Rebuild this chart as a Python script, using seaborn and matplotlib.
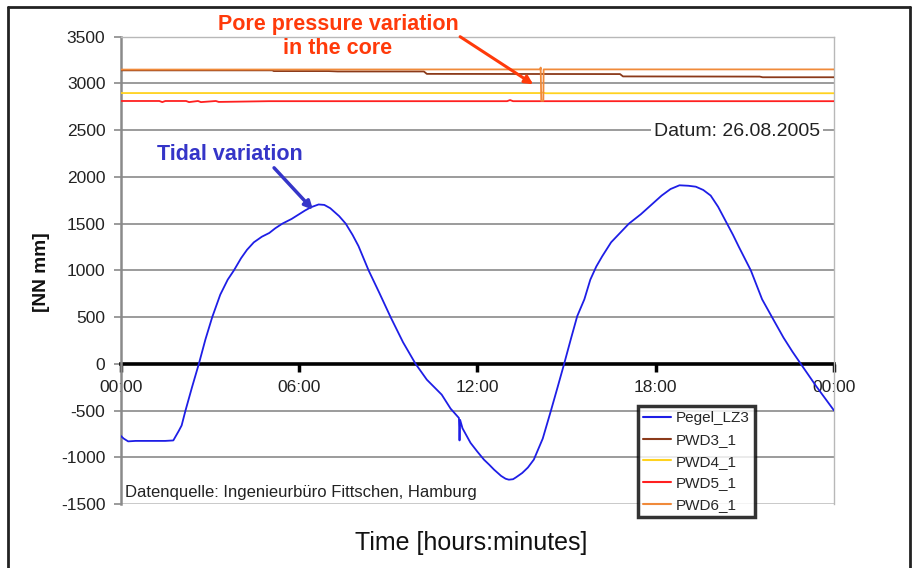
import numpy as np
import pandas as pd
import matplotlib
matplotlib.use("Agg")
import matplotlib.pyplot as plt
from matplotlib.lines import Line2D
import seaborn as sns

sns.set_theme(style="white")
plt.rcParams["font.family"] = ["Liberation Sans", "DejaVu Sans"]
plt.rcParams["axes.unicode_minus"] = False

# tide gauge (hours after midnight, NN mm)
pegel_t = [0.0, 0.1, 0.25, 0.5, 1.0, 1.5, 1.77, 1.95, 2.05, 2.18, 2.4, 2.63, 2.85,
           3.08, 3.35, 3.6, 3.81, 4.05, 4.25, 4.48, 4.75, 5.0, 5.2, 5.44, 5.75, 6.0,
           6.2, 6.4, 6.66, 6.85, 7.05, 7.35, 7.57, 7.8, 8.0, 8.34, 8.7, 9.08, 9.5,
           9.92, 10.3, 10.8, 11.1, 11.38, 11.40, 11.42, 11.5, 11.77, 12.0, 12.22,
           12.4, 12.56, 12.8, 12.95, 13.06, 13.2, 13.3, 13.51, 13.7, 13.9, 14.2,
           14.47, 14.7, 14.92, 15.15, 15.36, 15.6, 15.8, 16.0, 16.2, 16.5, 16.8,
           17.1, 17.5, 17.85, 18.2, 18.5, 18.8, 19.1, 19.35, 19.6, 19.85, 20.1,
           20.4, 20.6, 20.8, 21.2, 21.58, 22.0, 22.3, 22.6, 22.88, 23.4, 24.0]
pegel_v = [-770, -800, -830, -825, -825, -825, -820, -720, -660, -500, -250, 0, 260,
           500, 740, 900, 1000, 1130, 1220, 1300, 1360, 1400, 1450, 1500, 1550, 1600,
           1640, 1675, 1705, 1700, 1665, 1580, 1500, 1380, 1260, 1000, 760, 500, 230,
           0, -170, -330, -480, -580, -820, -600, -690, -846, -940, -1025,
           -1080, -1132, -1200, -1230, -1240, -1235, -1215, -1168, -1110, -1025, -800,
           -507, -250, 0, 270, 510, 690, 900, 1040, 1150, 1300, 1400,
           1500, 1600, 1700, 1800, 1870, 1910, 1905, 1895, 1860, 1800, 1680,
           1500, 1380, 1250, 1000, 690, 450, 280, 130, 0, -240, -500]

# pore pressure sensors in the core
pwd3_t = [0.0, 5.1, 5.15, 7.0, 7.3, 10.2, 10.3, 16.8, 16.9, 21.5, 21.6, 24.0]
pwd3_v = [3140, 3140, 3132, 3132, 3128, 3128, 3102, 3100, 3075, 3073, 3066, 3066]

pwd4_t = [0.0, 14.1, 14.2, 14.3, 24.0]
pwd4_v = [2897, 2897, 2902, 2895, 2895]

pwd5_t = [0.0, 1.3, 1.4, 1.5, 2.2, 2.3, 2.6, 2.7, 3.2, 3.3, 5.0, 5.1, 13.0, 13.1, 13.2, 24.0]
pwd5_v = [2812, 2812, 2800, 2812, 2812, 2800, 2812, 2800, 2812, 2802, 2810, 2810, 2810, 2822, 2810, 2810]

pwd6_t = [0.0, 14.12, 14.13, 14.15, 14.22, 14.23, 24.0]
pwd6_v = [3148, 3150, 3170, 2815, 2815, 3150, 3150]

series_names = ["Pegel_LZ3", "PWD3_1", "PWD4_1", "PWD5_1", "PWD6_1"]
series_colors = ["#1e1ee6", "#8b3a1a", "#ffd21f", "#ff2020", "#f08a3a"]

x_ticks = [0, 6, 12, 18, 24]
x_ticklabels = ["00:00", "06:00", "12:00", "18:00", "00:00"]
y_ticks = [-1500, -1000, -500, 0, 500, 1000, 1500, 2000, 2500, 3000, 3500]

frames = []
for name, t, v in zip(series_names,
                      [pegel_t, pwd3_t, pwd4_t, pwd5_t, pwd6_t],
                      [pegel_v, pwd3_v, pwd4_v, pwd5_v, pwd6_v]):
    frames.append(pd.DataFrame({"time": t, "value": v, "series": name}))
df = pd.concat(frames, ignore_index=True)

fig = plt.figure(figsize=(9.13, 5.68), dpi=100)
ax = fig.add_axes([0.1322, 0.1127, 0.7813, 0.8227])

sns.lineplot(data=df, x="time", y="value", hue="series", hue_order=series_names,
             palette=series_colors, estimator=None, lw=1.3, ax=ax, zorder=3)

ax.set_xlim(0, 24)
ax.set_ylim(-1500, 3500)
ax.set_yticks(y_ticks)
ax.set_xticks(x_ticks)
ax.set_xticklabels(x_ticklabels)
ax.set_xlabel("")
ax.set_ylabel("")

# gridlines
for yv in y_ticks:
    if yv not in (0, -1500):
        ax.axhline(yv, color="#8a8a8a", lw=1.2, zorder=1)
ax.axhline(-1500, color="#c0c0c0", lw=1.2, zorder=1)

for side in ["top", "right"]:
    ax.spines[side].set_color("#b8b8b8")
    ax.spines[side].set_linewidth(1.0)
ax.spines["left"].set_color("#8a8a8a")
ax.spines["left"].set_linewidth(1.8)
ax.spines["bottom"].set_position(("data", 0))
ax.spines["bottom"].set_color("black")
ax.spines["bottom"].set_linewidth(2.6)
ax.spines["bottom"].set_zorder(2)

ax.tick_params(axis="y", direction="out", length=5, width=1.2, color="#8a8a8a",
               labelsize=12.5, labelcolor="#222222", pad=6, left=True)
ax.tick_params(axis="x", direction="out", length=6, width=2.5, color="black",
               labelsize=12.5, labelcolor="#222222", pad=6, bottom=True)

# legend
leg = ax.legend(loc="upper left", bbox_to_anchor=(0.7252, 0.2097), borderaxespad=0,
                fontsize=11, frameon=True, fancybox=False, handlelength=1.8,
                handletextpad=0.3, labelspacing=0.5, borderpad=0.35)
leg.get_frame().set_edgecolor("black")
leg.get_frame().set_linewidth(2.5)
leg.set_zorder(6)
for line in leg.get_lines():
    line.set_linewidth(1.5)

# texts inside plot
ax.text(23.53, 2490, "Datum: 26.08.2005", ha="right", va="center", fontsize=14,
        color="#222222", zorder=4,
        bbox=dict(facecolor="white", edgecolor="none", pad=2))
ax.text(0.14, -1372, "Datenquelle: Ingenieurbüro Fittschen, Hamburg", ha="left",
        va="center", fontsize=12, color="#222222", zorder=4)

ax.text(7.31, 3500, "Pore pressure variation\nin the core", ha="center", va="center",
        fontsize=15.5, fontweight="bold", color="#ff3a0a", linespacing=1.2, zorder=5)
ax.annotate("", xy=(13.88, 2990), xytext=(11.42, 3500),
            arrowprops=dict(arrowstyle="-|>", color="#ff3a0a", lw=2.2, mutation_scale=12,
                            shrinkA=0, shrinkB=0), zorder=5, annotation_clip=False)

ax.text(3.68, 2236, "Tidal variation", ha="center", va="center", fontsize=15.5,
        fontweight="bold", color="#3535c8", zorder=5)
ax.annotate("", xy=(6.47, 1648), xytext=(5.16, 2097),
            arrowprops=dict(arrowstyle="-|>", color="#3535c8", lw=2.5, mutation_scale=12,
                            shrinkA=0, shrinkB=0), zorder=5)

# axis titles
fig.text(0.516, 0.044, "Time [hours:minutes]", ha="center", va="center", fontsize=18,
         color="#111111")
fig.text(0.046, 0.521, "[NN mm]", ha="center", va="center", rotation=90, fontsize=13.8,
         fontweight="bold", color="#111111")

# outer frame
fig.add_artist(Line2D([8 / 913, 8 / 913], [0, 1 - 7 / 568], transform=fig.transFigure,
                      color="#222222", lw=2))
fig.add_artist(Line2D([8 / 913, 910 / 913], [1 - 7 / 568, 1 - 7 / 568],
                      transform=fig.transFigure, color="#222222", lw=2))
fig.add_artist(Line2D([910 / 913, 910 / 913], [0, 1 - 7 / 568], transform=fig.transFigure,
                      color="#222222", lw=2))

fig.savefig("out.png", dpi=100)
